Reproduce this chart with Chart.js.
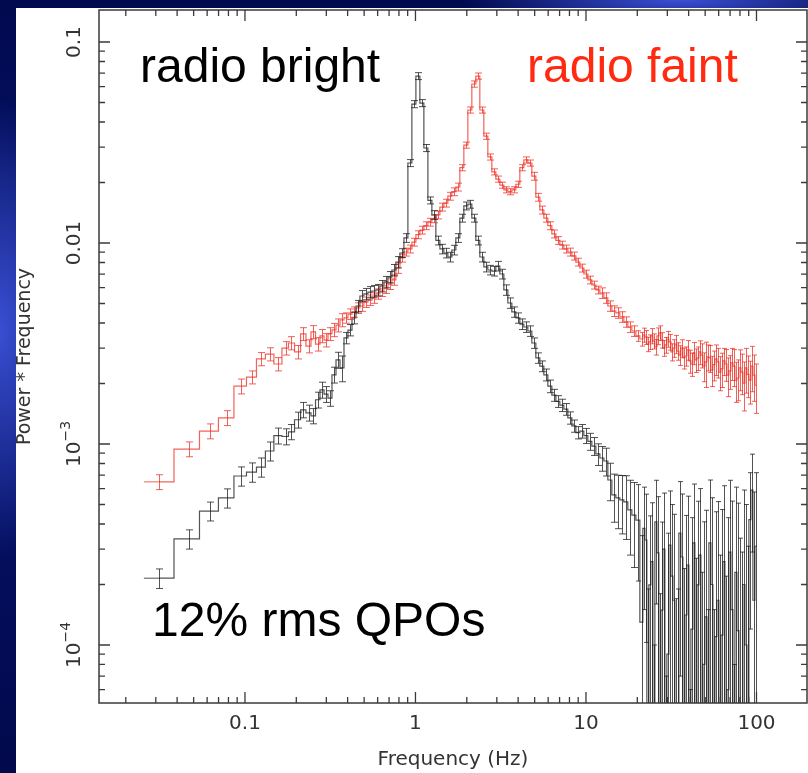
<!DOCTYPE html>
<html>
<head>
<meta charset="utf-8">
<script src="https://cdn.jsdelivr.net/npm/chart.js@4.4.1/dist/chart.umd.min.js"></script>
<style>
  html, body { margin: 0; padding: 0; }
  body {
    width: 808px; height: 773px; overflow: hidden; position: relative;
    background:
      radial-gradient(ellipse 90px 230px at 0px 330px, rgba(60,82,215,0.95), rgba(60,82,215,0) 100%),
      radial-gradient(ellipse 220px 30px at 680px 0px, rgba(62,84,220,0.95), rgba(62,84,220,0) 100%),
      linear-gradient(180deg, #010a4e 0%, #061470 40%, #030d5a 75%, #020a4c 100%);
  }
  #panel { position: absolute; left: 16px; top: 8px; width: 792px; height: 765px; background: #fff; }
  #chart { position: absolute; left: 0; top: 0; }
</style>
</head>
<body>
<div id="panel"></div>
<canvas id="chart" width="808" height="773"></canvas>
<script>
// Frequency bins (Hz), shared by both power spectra.
const freq = [
  0.0313, 0.047, 0.0623, 0.0784, 0.0947, 0.110, 0.124, 0.140, 0.156, 0.174, 0.186,
  0.205, 0.219, 0.237, 0.251, 0.268, 0.283, 0.299, 0.315, 0.333, 0.351, 0.371,
  0.391, 0.413, 0.436, 0.460, 0.485, 0.512, 0.541, 0.571, 0.602, 0.636, 0.671, 0.708, 0.747, 0.789,
  0.833, 0.879, 0.927, 0.979, 1.033, 1.090, 1.151, 1.215, 1.282, 1.353, 1.428, 1.507, 1.591, 1.679, 1.772,
  1.871, 1.974, 2.084, 2.199, 2.321, 2.450, 2.586, 2.730, 2.881, 3.041, 3.210, 3.388, 3.576, 3.775, 3.984, 4.205, 4.439, 4.685,
  4.945, 5.220, 5.509, 5.815, 6.138, 6.479, 6.838, 7.218, 7.618, 8.041, 8.488, 8.959, 9.456, 9.981, 10.53, 11.12, 11.74,
  12.39, 13.08, 13.80, 14.57, 15.38, 16.23, 17.13, 18.08, 19.09, 20.15,
  21.26, 21.84, 22.44, 23.06, 23.69, 24.34, 25.01, 25.69, 26.40, 27.12, 27.86, 28.63,
  29.41, 30.22, 31.04, 31.89, 32.76, 33.66, 34.58, 35.53, 36.50, 37.50, 38.53,
  39.58, 40.67, 41.78, 42.93, 44.10, 45.31, 46.55, 47.83, 49.14, 50.48, 51.87, 53.28,
  54.74, 56.24, 57.78, 59.36, 60.99, 62.66, 64.37, 66.14, 67.95, 69.81, 71.72, 73.68,
  75.70, 77.77, 79.90, 82.09, 84.33, 86.65, 89.02, 91.46, 93.96, 96.54, 99.18
];

// Radio faint state (red): power * frequency and 1-sigma error.
const faintPow = [
  6.48e-4, 9.44e-4, 1.16e-3, 1.35e-3, 1.94e-3, 2.15e-3, 2.65e-3, 2.80e-3, 2.50e-3, 3.00e-3, 3.18e-3,
  2.87e-3, 3.53e-3, 3.07e-3, 3.61e-3, 3.14e-3, 3.45e-3, 3.29e-3, 3.53e-3, 3.70e-3, 3.90e-3, 4.14e-3,
  4.24e-3, 4.43e-3, 4.54e-3, 4.75e-3, 4.86e-3, 5.08e-3, 5.20e-3, 5.33e-3, 5.58e-3, 5.77e-3, 5.97e-3, 6.25e-3, 6.55e-3, 7.51e-3,
  8.42e-3, 9.02e-3, 9.34e-3, 0.0101, 0.0110, 0.0116, 0.0122, 0.0127, 0.0132, 0.0138, 0.0151, 0.0158, 0.0171, 0.0180, 0.0190,
  0.0237, 0.0307, 0.0459, 0.0618, 0.0677, 0.0459, 0.0340, 0.0268, 0.0226, 0.0208, 0.0194, 0.0184, 0.0180, 0.0184, 0.0196, 0.0237, 0.0259, 0.0250,
  0.0215, 0.0169, 0.0146, 0.0133, 0.0122, 0.0111, 0.0103, 9.77e-3, 9.34e-3, 9.02e-3, 8.62e-3, 8.04e-3, 7.51e-3, 7.01e-3, 6.55e-3, 6.18e-3, 5.84e-3,
  5.64e-3, 5.33e-3, 4.86e-3, 4.59e-3, 4.49e-3, 4.29e-3, 4.05e-3, 3.82e-3, 3.65e-3, 3.45e-3,
  3.33e-3, 3.49e-3, 3.40e-3, 3.14e-3, 3.22e-3, 3.45e-3, 3.25e-3, 3.04e-3, 3.45e-3, 3.57e-3, 3.29e-3, 3.00e-3,
  3.11e-3, 3.33e-3, 3.22e-3, 2.87e-3, 3.00e-3, 3.14e-3, 2.90e-3, 2.77e-3, 3.00e-3, 2.68e-3, 2.74e-3,
  2.94e-3, 2.59e-3, 2.50e-3, 2.84e-3, 2.62e-3, 2.68e-3, 2.87e-3, 2.77e-3, 2.44e-3, 2.56e-3, 2.71e-3, 2.68e-3,
  2.33e-3, 2.48e-3, 2.65e-3, 2.56e-3, 2.28e-3, 2.37e-3, 2.59e-3, 2.50e-3, 2.20e-3, 2.31e-3, 2.53e-3, 2.44e-3,
  2.08e-3, 2.13e-3, 2.39e-3, 2.28e-3, 2.01e-3, 2.39e-3, 2.22e-3, 2.08e-3, 2.44e-3, 2.20e-3, 1.96e-3
];
const faintErr = [
  5.5e-5, 8.0e-5, 9.9e-5, 1.15e-4, 1.65e-4, 1.6e-4, 2.0e-4, 2.1e-4, 1.9e-4, 2.3e-4, 2.4e-4,
  2.2e-4, 2.6e-4, 2.3e-4, 2.7e-4, 2.4e-4, 2.6e-4, 2.5e-4, 2.6e-4, 2.8e-4, 2.9e-4, 3.1e-4,
  2.5e-4, 2.7e-4, 2.7e-4, 2.9e-4, 2.9e-4, 3.0e-4, 3.1e-4, 3.2e-4, 3.3e-4, 3.5e-4, 3.6e-4, 3.8e-4, 3.9e-4, 4.5e-4,
  3.8e-4, 4.1e-4, 4.2e-4, 4.5e-4, 5.0e-4, 5.2e-4, 5.5e-4, 5.7e-4, 5.9e-4, 6.2e-4, 6.8e-4, 7.1e-4, 7.7e-4, 8.1e-4, 8.6e-4,
  8.3e-4, 1.07e-3, 1.6e-3, 2.2e-3, 2.4e-3, 1.6e-3, 1.2e-3, 9.4e-4, 7.9e-4, 7.3e-4, 6.8e-4, 6.4e-4, 6.3e-4, 6.4e-4, 6.9e-4, 8.3e-4, 9.1e-4, 8.8e-4,
  9.7e-4, 7.6e-4, 6.6e-4, 6.0e-4, 5.5e-4, 5.0e-4, 4.6e-4, 4.4e-4, 4.2e-4, 4.1e-4, 3.9e-4, 3.6e-4, 3.4e-4, 3.2e-4, 2.9e-4, 2.8e-4, 2.6e-4,
  3.4e-4, 3.2e-4, 2.9e-4, 2.8e-4, 2.7e-4, 2.6e-4, 2.4e-4, 2.3e-4, 2.2e-4, 2.1e-4,
  2.6e-4, 2.8e-4, 2.7e-4, 2.6e-4, 2.7e-4, 3.0e-4, 2.8e-4, 2.7e-4, 3.3e-4, 3.0e-4, 2.9e-4, 2.7e-4,
  2.8e-4, 3.0e-4, 2.9e-4, 2.8e-4, 3.0e-4, 3.3e-4, 2.9e-4, 3.1e-4, 3.0e-4, 3.2e-4, 3.0e-4,
  3.3e-4, 3.4e-4, 3.3e-4, 3.6e-4, 3.5e-4, 3.6e-4, 3.9e-4, 3.8e-4, 4.0e-4, 6.5e-4, 4.0e-4, 4.1e-4,
  4.0e-4, 4.2e-4, 4.6e-4, 4.3e-4, 4.4e-4, 4.6e-4, 4.0e-4, 4.5e-4, 4.8e-4, 4.4e-4, 4.6e-4, 5.1e-4,
  4.7e-4, 4.9e-4, 5.5e-4, 5.2e-4, 5.5e-4, 6.0e-4, 5.2e-4, 5.0e-4, 6.2e-4, 5.7e-4, 5.4e-4
];

// Radio bright state (black). Negative values fall below the plotted range.
const brightPow = [
  2.15e-4, 3.37e-4, 4.64e-4, 5.39e-4, 6.93e-4, 7.25e-4, 7.68e-4, 9.23e-4, 1.10e-3, 1.09e-3, 1.15e-3,
  1.32e-3, 1.48e-3, 1.43e-3, 1.38e-3, 1.66e-3, 1.86e-3, 1.77e-3, 1.69e-3, 2.21e-3, 2.62e-3, 2.39e-3,
  3.37e-3, 3.69e-3, 4.24e-3, 4.86e-3, 5.45e-3, 5.58e-3, 5.70e-3, 5.77e-3, 5.84e-3, 6.11e-3, 6.40e-3, 6.77e-3, 7.34e-3, 8.04e-3,
  8.92e-3, 0.0106, 0.0250, 0.0491, 0.0677, 0.0497, 0.0297, 0.0163, 0.0138, 0.0103, 9.34e-3, 8.92e-3, 8.52e-3, 9.23e-3, 0.0106,
  0.0133, 0.0153, 0.0156, 0.0133, 0.0103, 8.52e-3, 7.60e-3, 7.34e-3, 7.25e-3, 7.68e-3, 7.01e-3, 5.84e-3, 5.03e-3, 4.54e-3, 4.24e-3, 3.95e-3, 3.82e-3, 3.65e-3,
  3.18e-3, 2.68e-3, 2.44e-3, 2.21e-3, 1.94e-3, 1.75e-3, 1.63e-3, 1.56e-3, 1.49e-3, 1.35e-3, 1.23e-3, 1.14e-3, 1.16e-3, 1.10e-3, 1.03e-3, 9.77e-4, 8.92e-4,
  8.52e-4, 8.23e-4, 6.62e-4, 5.58e-4, 5.39e-4, 5.27e-4, 5.15e-4, 4.70e-4, 4.43e-4, 4.18e-4,
  1.30e-4, 3.8e-4, 3.33e-4, -0.5e-4, 1.99e-4, 2.6e-4, -1.5e-4, 4.1e-4, 2.87e-4, -0.8e-4, 1.49e-4, 3.0e-4,
  -2.0e-4, 0.9e-4, 3.14e-4, 2.2e-4, 1.67e-4, -1.2e-4, -1.0e-4, 3.6e-4, 2.74e-4, -0.6e-4, 1.41e-4,
  2.5e-4, -2.5e-4, 1.2e-4, 3.22e-4, -0.4e-4, 1.99e-4, 2.8e-4, -1.0e-4, 0.8e-4, 1.38e-4, -1.8e-4, 3.22e-4,
  2.0e-4, -2.0e-4, 1.1e-4, 1.67e-4, -0.7e-4, 1.12e-4, 2.6e-4, -1.5e-4, 0.6e-4, 2.90e-4, 1.5e-4, -3.0e-4,
  2.3e-4, 1.18e-4, -0.5e-4, -1.0e-4, 2.0e-4, 1.00e-4, -0.9e-4, 4.2e-4, 5.90e-4, 1.67e-4, 3.1e-4
];
const brightErr = [
  2.4e-5, 3.7e-5, 5.0e-5, 5.9e-5, 7.6e-5, 8.0e-5, 8.4e-5, 1.0e-4, 1.0e-4, 1.0e-4, 1.0e-4,
  1.2e-4, 1.3e-4, 1.3e-4, 1.2e-4, 1.5e-4, 1.7e-4, 1.6e-4, 1.5e-4, 2.0e-4, 2.4e-4, 3.5e-4,
  2.2e-4, 2.4e-4, 2.8e-4, 3.2e-4, 3.5e-4, 3.6e-4, 3.7e-4, 3.8e-4, 3.8e-4, 4.0e-4, 4.2e-4, 4.4e-4, 4.8e-4, 5.2e-4,
  4.5e-4, 5.3e-4, 1.0e-3, 2.0e-3, 2.7e-3, 2.0e-3, 1.2e-3, 6.5e-4, 6.9e-4, 5.2e-4, 5.1e-4, 4.9e-4, 4.7e-4, 5.1e-4, 5.3e-4,
  6.0e-4, 6.9e-4, 7.0e-4, 6.0e-4, 5.2e-4, 4.7e-4, 4.2e-4, 4.0e-4, 4.0e-4, 4.2e-4, 3.9e-4, 3.5e-4, 3.0e-4, 2.7e-4, 2.5e-4, 2.4e-4, 2.3e-4, 2.2e-4,
  1.9e-4, 1.6e-4, 1.5e-4, 1.5e-4, 1.4e-4, 1.2e-4, 1.1e-4, 1.1e-4, 1.0e-4, 9.5e-5, 8.6e-5, 8.0e-5, 9.0e-5, 9.5e-5, 1.0e-4, 1.0e-4, 1.1e-4,
  1.2e-4, 1.3e-4, 1.4e-4, 1.5e-4, 1.6e-4, 1.7e-4, 1.8e-4, 1.9e-4, 2.0e-4, 2.1e-4,
  2.2e-4, 2.3e-4, 2.3e-4, 2.4e-4, 2.4e-4, 2.5e-4, 2.5e-4, 2.5e-4, 2.6e-4, 2.6e-4, 2.6e-4, 2.7e-4,
  2.7e-4, 2.7e-4, 2.7e-4, 2.8e-4, 2.8e-4, 2.9e-4, 2.9e-4, 2.9e-4, 2.9e-4, 3.0e-4, 3.0e-4,
  3.0e-4, 3.1e-4, 3.1e-4, 3.1e-4, 3.1e-4, 3.2e-4, 3.2e-4, 3.3e-4, 3.3e-4, 3.3e-4, 3.3e-4, 3.4e-4,
  3.4e-4, 3.5e-4, 3.5e-4, 3.5e-4, 3.5e-4, 3.6e-4, 3.6e-4, 3.7e-4, 3.7e-4, 3.7e-4, 3.7e-4, 3.8e-4,
  3.8e-4, 3.9e-4, 3.9e-4, 3.9e-4, 3.9e-4, 4.0e-4, 4.0e-4, 3.0e-4, 3.0e-4, 4.1e-4, 4.1e-4
];

// Axis ranges and labelled ticks
const xRange = [0.01393, 197.8];
const yRange = [5.145e-5, 0.1443];
const xMajor = [0.1, 1, 10, 100];
const yMajor = [0.1, 0.01, 1e-3, 1e-4];
const yLabelBase = ['0.1', '0.01', '10', '10'];
const yLabelExp = ['', '', '\u22123', '\u22124'];

const FLOOR = 1e-7; // stand-in for values below zero on the log axis
const BLACK = 'rgba(25,25,25,0.75)';
const RED = 'rgba(238,45,35,0.75)';
const LABEL_FONT = '"DejaVu Sans", sans-serif';

function points(vals) {
  return freq.map((f, i) => ({ x: f, y: Math.max(vals[i], FLOOR) }));
}

// Minor + major tick values for a log axis
function logTicks(min, max) {
  const out = [];
  for (let e = Math.floor(Math.log10(min)); e <= Math.ceil(Math.log10(max)); e++) {
    for (let k = 1; k < 10; k++) {
      const v = k * Math.pow(10, e);
      if (v >= min && v <= max) out.push({ v: v, major: k === 1 });
    }
  }
  return out;
}

// Error bars (vertical, with caps) plus the outer half of the end bins
const errorBars = {
  id: 'errorBars',
  afterDatasetsDraw(chart) {
    const ctx = chart.ctx, a = chart.chartArea;
    const xs = chart.scales.x, ys = chart.scales.y;
    ctx.save();
    ctx.beginPath();
    ctx.rect(a.left, a.top, a.right - a.left, a.bottom - a.top);
    ctx.clip();
    for (let d = chart.data.datasets.length - 1; d >= 0; d--) {
      const ds = chart.data.datasets[d];
      ctx.strokeStyle = ds.borderColor;
      ctx.lineWidth = 1;
      ctx.beginPath();
      for (let i = 0; i < freq.length; i++) {
        const v = ds.vals[i], s = ds.errs[i];
        const hi = v + s, lo = v - s;
        if (hi <= 0) continue;
        const cap = freq[i] > 20 ? 2.5 : 3.5;
        const px = Math.round(xs.getPixelForValue(freq[i])) + 0.5;
        const pHi = ys.getPixelForValue(hi);
        const pLo = lo > 0 ? ys.getPixelForValue(lo) : a.bottom + 5;
        ctx.moveTo(px, pHi); ctx.lineTo(px, pLo);
        ctx.moveTo(px - cap, pHi); ctx.lineTo(px + cap, pHi);
        if (lo > 0) { ctx.moveTo(px - cap, pLo); ctx.lineTo(px + cap, pLo); }
      }
      // first and last bin outer halves
      const n = freq.length;
      const x0 = xs.getPixelForValue(freq[0]), x1 = xs.getPixelForValue(freq[1]);
      const y0 = ys.getPixelForValue(Math.max(ds.vals[0], FLOOR));
      ctx.moveTo(x0 - (x1 - x0) / 2, y0); ctx.lineTo(x0, y0);
      const xn = xs.getPixelForValue(freq[n - 1]), xm = xs.getPixelForValue(freq[n - 2]);
      const yn = ys.getPixelForValue(Math.max(ds.vals[n - 1], FLOOR));
      ctx.moveTo(xn, yn); ctx.lineTo(xn + (xn - xm) / 2, yn);
      ctx.stroke();
    }
    ctx.restore();
  }
};

// Frame, inward ticks on all four sides, rotated y labels and the text notes
const frame = {
  id: 'frame',
  afterDraw(chart) {
    const ctx = chart.ctx, a = chart.chartArea;
    const xs = chart.scales.x, ys = chart.scales.y;
    ctx.save();
    ctx.strokeStyle = '#3a3a3a';
    ctx.lineWidth = 1.5;
    ctx.strokeRect(a.left, a.top, a.right - a.left, a.bottom - a.top);
    ctx.lineWidth = 1.3;
    ctx.beginPath();
    logTicks(xRange[0], xRange[1]).forEach(t => {
      const px = xs.getPixelForValue(t.v), len = t.major ? 11 : 6;
      ctx.moveTo(px, a.bottom); ctx.lineTo(px, a.bottom - len);
      ctx.moveTo(px, a.top); ctx.lineTo(px, a.top + len);
    });
    logTicks(yRange[0], yRange[1]).forEach(t => {
      const py = ys.getPixelForValue(t.v), len = t.major ? 11 : 6;
      ctx.moveTo(a.left, py); ctx.lineTo(a.left + len, py);
      ctx.moveTo(a.right, py); ctx.lineTo(a.right - len, py);
    });
    ctx.stroke();

    // y tick labels, reading bottom to top
    ctx.fillStyle = '#333';
    yMajor.forEach((v, i) => {
      const py = ys.getPixelForValue(v);
      ctx.save();
      ctx.translate(a.left - 24, py);
      ctx.rotate(-Math.PI / 2);
      ctx.textBaseline = 'middle';
      ctx.font = '20px ' + LABEL_FONT;
      const wb = ctx.measureText(yLabelBase[i]).width;
      ctx.font = '14px ' + LABEL_FONT;
      const we = yLabelExp[i] ? ctx.measureText(yLabelExp[i]).width : 0;
      const start = -(wb + we) / 2;
      ctx.font = '20px ' + LABEL_FONT;
      ctx.textAlign = 'left';
      ctx.fillText(yLabelBase[i], start, 0);
      if (we) {
        ctx.font = '14px ' + LABEL_FONT;
        ctx.fillText(yLabelExp[i], start + wb, -9);
      }
      ctx.restore();
    });

    // annotations
    ctx.font = '48px "Liberation Sans", Arial, sans-serif';
    ctx.textAlign = 'left';
    ctx.textBaseline = 'alphabetic';
    ctx.fillStyle = '#000';
    ctx.fillText('radio bright', 140, 82);
    ctx.fillText('12% rms QPOs', 152, 636);
    ctx.fillStyle = '#ff2a10';
    ctx.fillText('radio faint', 527, 82);
    ctx.restore();
  }
};

new Chart(document.getElementById('chart'), {
  type: 'line',
  data: {
    datasets: [
      { label: 'radio bright', data: points(brightPow), vals: brightPow, errs: brightErr,
        borderColor: BLACK, borderWidth: 1.2, pointRadius: 0, stepped: 'middle', fill: false },
      { label: 'radio faint', data: points(faintPow), vals: faintPow, errs: faintErr,
        borderColor: RED, borderWidth: 1.2, pointRadius: 0, stepped: 'middle', fill: false }
    ]
  },
  options: {
    responsive: false,
    animation: false,
    devicePixelRatio: 1,
    layout: { padding: { top: 10, right: 1, left: 0, bottom: 0 } },
    plugins: { legend: { display: false }, tooltip: { enabled: false } },
    scales: {
      x: {
        type: 'logarithmic',
        min: xRange[0], max: xRange[1], bounds: 'data',
        grid: { display: false, drawTicks: false },
        border: { display: false },
        afterBuildTicks: scale => { scale.ticks = xMajor.map(v => ({ value: v })); },
        afterFit: scale => { scale.height = 70; },
        ticks: {
          autoSkip: false, maxRotation: 0, padding: 9,
          color: '#333', font: { family: LABEL_FONT, size: 20 },
          callback: v => String(v)
        },
        title: {
          display: true, text: 'Frequency (Hz)', color: '#333',
          font: { family: LABEL_FONT, size: 20 }, padding: { top: 0, bottom: 1 }
        }
      },
      y: {
        type: 'logarithmic',
        min: yRange[0], max: yRange[1], bounds: 'data',
        grid: { display: false, drawTicks: false },
        border: { display: false },
        ticks: { display: false },
        afterFit: scale => { scale.width = 99; },
        title: {
          display: true, text: 'Power * Frequency', color: '#333',
          font: { family: LABEL_FONT, size: 19 }, padding: { top: 14, bottom: 0 }
        }
      }
    }
  },
  plugins: [errorBars, frame]
});
</script>
</body>
</html>
